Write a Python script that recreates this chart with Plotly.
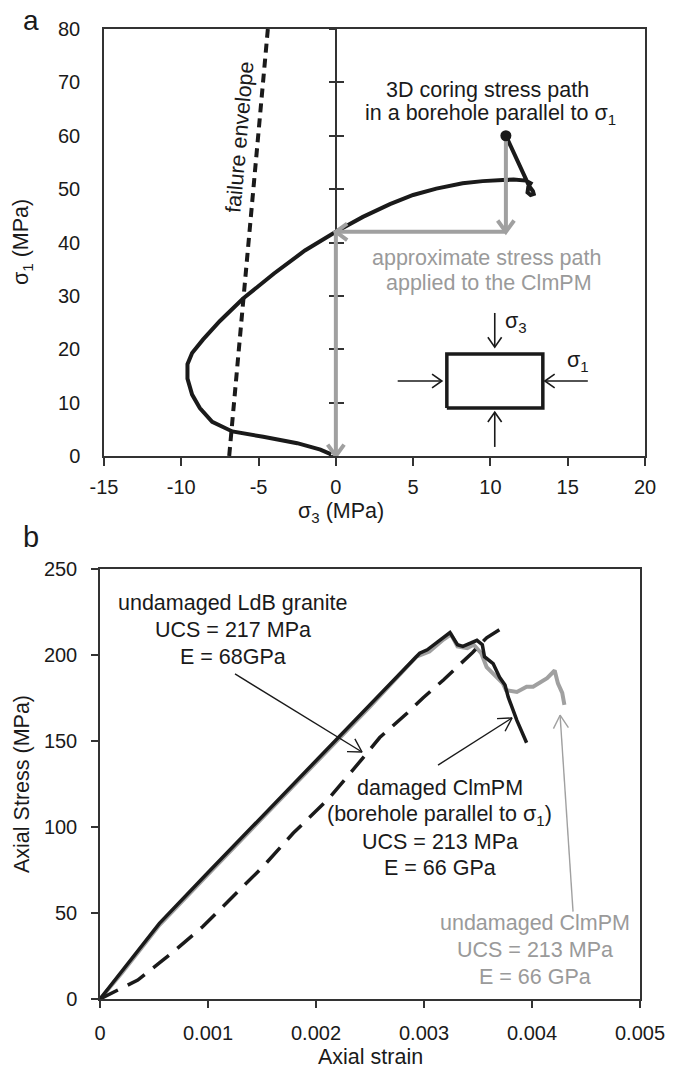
import math
import plotly.graph_objects as go

# The page body has an 8px margin, so the figure is drawn 8px smaller and shifted.
OFF = 8
W, H = 675 - OFF, 1070 - OFF
FONT = "Liberation Sans, Arial, sans-serif"
BLACK = "#1a1a1a"
GRAY = "#a0a0a0"
GRAYTXT = "#9a9a9a"

# ---------------- Panel a data ----------------
# 3D coring stress path (sigma3, sigma1), starting at the dot
path_s3 = [11.0, 11.4, 11.9, 12.25, 12.5, 12.75, 12.8, 12.6, 12.4, 12.45, 12.6, 12.3, 11.5, 10.8, 9.5, 8.2,
           6.5, 5.0, 3.5, 1.75, 0.0, -2.0, -4.0, -6.0, -7.5, -8.6, -9.3, -9.6, -9.6, -9.3, -8.8, -8.0,
           -6.7, -4.7, -2.5, -1.0, -0.3]
path_s1 = [60.0, 57.5, 54.5, 52.0, 50.6, 49.6, 49.1, 48.9, 49.4, 50.4, 51.1, 51.6, 51.8, 51.7, 51.5, 51.1,
           50.1, 48.9, 47.2, 44.8, 42.0, 38.5, 34.2, 29.5, 25.3, 21.8, 19.3, 17.2, 14.5, 11.5, 9.0, 6.4,
           4.6, 3.6, 2.4, 1.2, 0.3]
# failure envelope
env_s3 = [-6.9, -4.4]
env_s1 = [0.0, 80.0]
# approximate stress path applied to the ClmPM
approx_s3 = [11.0, 11.0, 0.0, 0.0]
approx_s1 = [60.0, 42.0, 42.0, 0.0]
# inset loading diagram (sample box and loading arrows: tail -> tip)
box_s3 = [7.18, 13.39, 13.39, 7.18, 7.18]
box_s1 = [9.0, 9.0, 19.1, 19.1, 9.0]
inset_tail_s3 = [10.28, 10.28, 4.0, 16.3]
inset_tail_s1 = [26.8, 1.7, 14.05, 14.05]
inset_tip_s3 = [10.28, 10.28, 6.86, 13.52]
inset_tip_s1 = [20.4, 8.2, 14.05, 14.05]
xa_ticks = [-15, -10, -5, 0, 5, 10, 15, 20]
xa_ticktext = ["-15", "-10", "-5", "0", "5", "10", "15", "20"]
ya_ticks = [0, 10, 20, 30, 40, 50, 60, 70, 80]

# ---------------- Panel b data ----------------
strain_dmg = [0, 0.0002, 0.0004, 0.00055, 0.001, 0.0015, 0.002, 0.0025, 0.00296, 0.00303, 0.00313,
              0.00324, 0.00331, 0.00336, 0.00349, 0.00354, 0.00356, 0.00364, 0.0037, 0.00375, 0.00378,
              0.00386, 0.00395]
stress_dmg = [0, 16, 32, 44, 73.5, 106, 139, 171, 201, 203, 207.5,
              213, 206, 205, 208.5, 206, 199, 195, 187, 182.5, 175.5,
              162, 149]
strain_und = [0, 0.0002, 0.0004, 0.00055, 0.001, 0.0015, 0.002, 0.0025, 0.00293, 0.00305, 0.00318,
              0.00325, 0.00331, 0.0034, 0.00346, 0.00353, 0.00358, 0.00367, 0.00373, 0.00376, 0.00386,
              0.00395, 0.00401, 0.00414, 0.00421, 0.00424, 0.00428, 0.0043]
stress_und = [0, 15, 31, 43, 72.5, 105, 138, 170, 199, 202, 209,
              212, 205, 204, 206, 201, 193, 187, 183.5, 179.5, 178.5,
              181.5, 181.5, 186.5, 191, 183.5, 178, 171]
strain_ldb = [0, 0.00023, 0.00035, 0.00055, 0.00067, 0.00095, 0.00123, 0.00151, 0.00179, 0.00211,
              0.00234, 0.00245, 0.00259, 0.00284, 0.00299, 0.00318, 0.00345, 0.00358, 0.00378]
stress_ldb = [0, 7, 11, 21, 27, 42, 59.5, 77, 96.5, 116,
              133, 141.5, 152, 166, 175, 185.5, 201.5, 210, 218]
# label pointer arrows (tail -> tip)
ptr_tail_strain = [0.00125, 0.00313, 0.00438]
ptr_tail_stress = [189, 136, 50.8]
ptr_tip_strain = [0.002426, 0.003815, 0.00426]
ptr_tip_stress = [143.6, 163.4, 165]
xb_ticks = [0, 0.001, 0.002, 0.003, 0.004, 0.005]
xb_ticktext = ["0", "0.001", "0.002", "0.003", "0.004", "0.005"]
yb_ticks = [0, 50, 100, 150, 200, 250]


# ---------------- layout geometry (page pixels -> paper) ----------------
def fx(px):
    return (px - OFF) / W


def fy(py):
    return 1 - (py - OFF) / H


XA = [fx(104), fx(645)]
YA = [fy(456), fy(29)]
XB = [fx(100), fx(640)]
YB = [fy(999), fy(569)]
RA_X, RA_Y = [-15, 20], [0, 80]
RB_X, RB_Y = [0, 0.005], [0, 250]


def scale(xd, yd, xr, yr):
    return (xd[1] - xd[0]) * W / (xr[1] - xr[0]), (yd[1] - yd[0]) * H / (yr[1] - yr[0])


SA = scale(XA, YA, RA_X, RA_Y)
SB = scale(XB, YB, RB_X, RB_Y)


def arrows(tails_x, tails_y, tips_x, tips_y, sc, L, ang):
    """shaft + open chevron head for each arrow, converted back to data units"""
    sx, sy = sc
    shaft_x, shaft_y, head_x, head_y = [], [], [], []
    for tx, ty, px, py in zip(tails_x, tails_y, tips_x, tips_y):
        shaft_x += [tx, px, None]
        shaft_y += [ty, py, None]
        dx, dy = (tx - px) * sx, (ty - py) * sy
        n = math.hypot(dx, dy)
        ux, uy = dx / n, dy / n
        pts = []
        for s in (1, -1):
            a = math.radians(ang * s)
            rx = ux * math.cos(a) - uy * math.sin(a)
            ry = ux * math.sin(a) + uy * math.cos(a)
            pts.append((px + rx * L / sx, py + ry * L / sy))
        head_x += [pts[0][0], px, pts[1][0], None]
        head_y += [pts[0][1], py, pts[1][1], None]
    return shaft_x, shaft_y, head_x, head_y


def line_trace(x, y, color, width, xa="x", ya="y", dash="solid"):
    return go.Scatter(x=x, y=y, mode="lines", xaxis=xa, yaxis=ya, hoverinfo="skip",
                      line=dict(color=color, width=width, dash=dash), showlegend=False)


fig = go.Figure()

# ---- panel a traces ----
fig.add_trace(line_trace(env_s3, env_s1, BLACK, 4, dash="9px,6px"))
fig.add_trace(line_trace(path_s3, path_s1, BLACK, 4))
sx_, sy_, hx_, hy_ = arrows(approx_s3[:-1], approx_s1[:-1], approx_s3[1:], approx_s1[1:], SA, 14, 36)
fig.add_trace(line_trace(sx_, sy_, GRAY, 4))
fig.add_trace(line_trace(hx_, hy_, GRAY, 4))
fig.add_trace(go.Scatter(x=path_s3[:1], y=path_s1[:1], mode="markers", hoverinfo="skip", showlegend=False,
                         marker=dict(color=BLACK, size=11)))
fig.add_trace(line_trace(box_s3, box_s1, BLACK, 3.5))
sx_, sy_, hx_, hy_ = arrows(inset_tail_s3, inset_tail_s1, inset_tip_s3, inset_tip_s1, SA, 12, 35)
fig.add_trace(line_trace(sx_, sy_, BLACK, 1.6))
fig.add_trace(line_trace(hx_, hy_, BLACK, 1.6))
# dummy traces for the crossing-tick axis at sigma3 = 0
fig.add_trace(go.Scatter(x=[None], y=[None], yaxis="y3", showlegend=False, hoverinfo="skip"))
fig.add_trace(go.Scatter(x=[None], y=[None], yaxis="y4", showlegend=False, hoverinfo="skip"))

# ---- panel b traces ----
fig.add_trace(line_trace(strain_und, stress_und, GRAY, 4, "x2", "y2"))
fig.add_trace(line_trace(strain_dmg, stress_dmg, BLACK, 3.5, "x2", "y2"))
fig.add_trace(line_trace(strain_ldb, stress_ldb, BLACK, 3.5, "x2", "y2", dash="20px,11px"))
for i, col in enumerate([BLACK, BLACK, GRAY]):
    sx_, sy_, hx_, hy_ = arrows(ptr_tail_strain[i:i + 1], ptr_tail_stress[i:i + 1],
                                ptr_tip_strain[i:i + 1], ptr_tip_stress[i:i + 1], SB, 15, 30)
    fig.add_trace(line_trace(sx_, sy_, col, 1.4, "x2", "y2"))
    fig.add_trace(line_trace(hx_, hy_, col, 1.4, "x2", "y2"))

# ---------------- annotations ----------------
ann = []


def txt(text, xpx, ypx, size=21.5, color=BLACK, angle=0):
    ann.append(dict(text=text, x=fx(xpx), y=fy(ypx), xref="paper", yref="paper",
                    xanchor="center", yanchor="middle", showarrow=False, textangle=angle,
                    font=dict(family=FONT, size=size, color=color)))


txt("a", 31, 20, 28)
txt("b", 31, 537, 29)
txt("3D coring stress path", 487, 90)
txt("in a borehole parallel to σ<sub>1</sub>", 490, 114)
txt("approximate stress path", 486, 258, color=GRAYTXT)
txt("applied to the ClmPM", 489, 283, color=GRAYTXT)
txt("failure envelope", 240, 137, angle=-85)
txt("σ<sub>3</sub>", 516, 322)
txt("σ<sub>1</sub>", 578, 362)
txt("σ<sub>3</sub> (MPa)", 341, 513)
txt("σ<sub>1</sub> (MPa)", 23, 242, angle=-90)

txt("undamaged LdB granite", 233, 603)
txt("UCS = 217 MPa", 233, 630)
txt("E = 68GPa", 233, 657)
txt("damaged ClmPM", 440, 788)
txt("(borehole parallel to σ<sub>1</sub>)", 440, 815)
txt("UCS = 213 MPa", 440, 842)
txt("E = 66 GPa", 440, 868)
txt("undamaged ClmPM", 535, 923, color=GRAYTXT)
txt("UCS = 213 MPa", 535, 950, color=GRAYTXT)
txt("E = 66 GPa", 535, 977, color=GRAYTXT)
txt("Axial Stress (MPa)", 22, 784, angle=-90)
txt("Axial strain", 370, 1057)

axis_common = dict(showgrid=False, zeroline=False, showline=True, linecolor="#333333", linewidth=1.5,
                   tickfont=dict(family=FONT, size=20, color=BLACK), tickcolor="#333333", tickwidth=1.5,
                   automargin=False, fixedrange=True)

y0pos = XA[0] + (0 - RA_X[0]) / (RA_X[1] - RA_X[0]) * (XA[1] - XA[0])

fig.update_layout(
    width=W, height=H,
    margin=dict(l=0, r=0, t=0, b=0),
    paper_bgcolor="white", plot_bgcolor="white",
    showlegend=False,
    annotations=ann,
    xaxis=dict(domain=XA, range=RA_X, anchor="y", tickvals=xa_ticks, ticktext=xa_ticktext,
               ticks="outside", ticklen=8, mirror=True, ticklabelstandoff=4, **axis_common),
    yaxis=dict(domain=YA, range=RA_Y, anchor="x", tickvals=ya_ticks, ticks="", mirror=True,
               ticklabelstandoff=18, **axis_common),
    yaxis3=dict(range=RA_Y, overlaying="y", anchor="free", position=y0pos, side="left",
                tickvals=ya_ticks, ticks="outside", ticklen=6, showticklabels=False,
                layer="below traces", **axis_common),
    yaxis4=dict(range=RA_Y, overlaying="y", anchor="free", position=y0pos, side="left",
                tickvals=ya_ticks, ticks="inside", ticklen=7, showticklabels=False,
                layer="below traces", **axis_common),
    xaxis2=dict(domain=XB, range=RB_X, anchor="y2", tickvals=xb_ticks, ticktext=xb_ticktext,
                ticks="outside", ticklen=7, mirror=True, ticklabelstandoff=8, **axis_common),
    yaxis2=dict(domain=YB, range=RB_Y, anchor="x2", tickvals=yb_ticks, ticks="outside", ticklen=7,
                mirror=True, ticklabelstandoff=10, **axis_common),
)

fig.write_html("out.html")
